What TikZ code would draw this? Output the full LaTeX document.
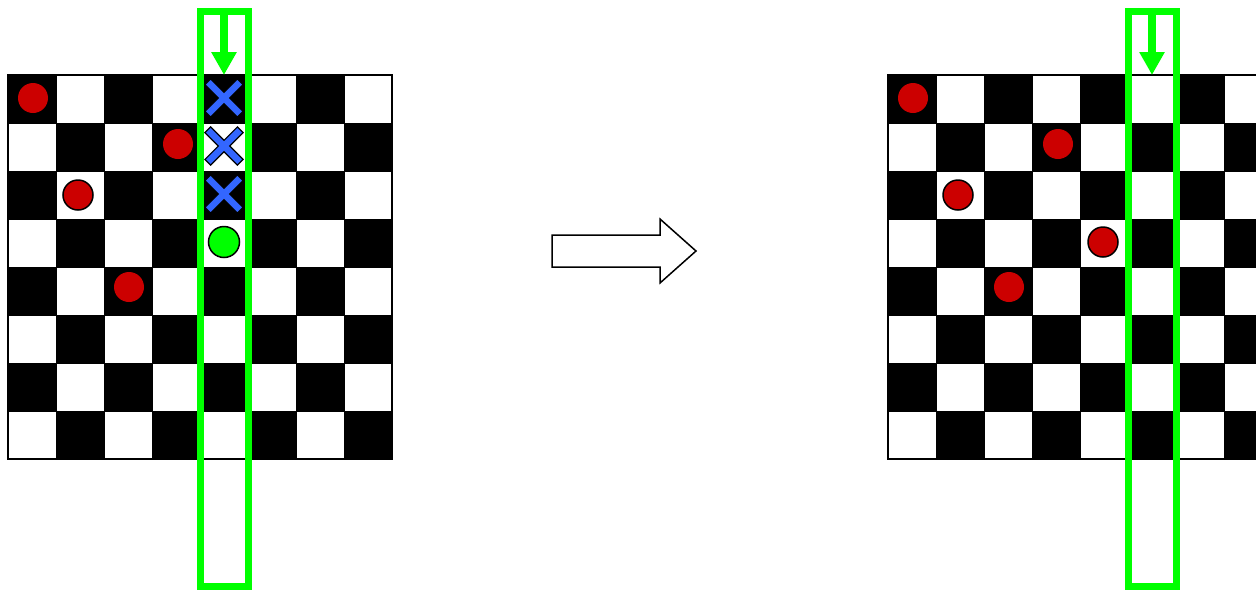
\documentclass[tikz,border=0pt]{standalone}
\usetikzlibrary{arrows.meta}
\definecolor{pieceRed}{HTML}{CC0000}
\definecolor{markGreen}{HTML}{00FF00}
\definecolor{xBlue}{HTML}{3366FF}
\tikzset{
  redpiece/.style={circle, fill=pieceRed, inner sep=0pt, minimum size=30pt},
  redpieceo/.style={circle, fill=pieceRed, draw=black, line width=1.5pt, inner sep=0pt, minimum size=30pt},
  greenpiece/.style={circle, fill=markGreen, draw=black, line width=1.5pt, inner sep=0pt, minimum size=31pt},
  scanbox/.style={draw=markGreen, line width=7pt},
  scanarrow/.style={draw=markGreen, line width=8pt, -{Triangle[width=24pt,length=23pt]}},
  xmark/.pic={
    \filldraw[fill=xBlue, draw=black, line width=1.2pt, rotate=45]
      (23,4) -- (4,4) -- (4,23) -- (-4,23) -- (-4,4) -- (-23,4) -- (-23,-4)
      -- (-4,-4) -- (-4,-23) -- (4,-23) -- (4,-4) -- (23,-4) -- cycle;
  },
  hollowarrow/.style={draw=black, fill=white, line width=1.5pt, line join=miter}
}
\newcommand{\chessboard}[1]{%
  \fill[white] (#1,75) rectangle ++(384,384);
  \foreach \i in {0,...,7}{%
    \foreach \j in {0,...,7}{%
      \pgfmathtruncatemacro{\cellpar}{mod(\i+\j,2)}%
      \ifnum\cellpar=0
        \fill[black] ({#1+48*\i},{75+48*\j}) rectangle ++(48,48);
      \fi
    }%
  }%
  \foreach \k in {1,...,7}{%
    \draw[black, line width=1pt] ({#1+48*\k},75) -- ++(0,384);
    \draw[black, line width=1pt] (#1,{75+48*\k}) -- ++(384,0);
  }%
  \draw[black, line width=2pt] (#1,75) rectangle ++(384,384);
}
\begin{document}
\begin{tikzpicture}[x=1pt, y=-1pt]
  \useasboundingbox (0,0) rectangle (1256,590);
  \clip (0,0) rectangle (1256,590);
  \fill[white] (0,0) rectangle (1256,590);

  % left board
  \chessboard{8}
  \node[redpiece]  (l1) at (33,98) {};
  \node[redpiece]  (l2) at (178,144) {};
  \node[redpieceo] (l3) at (78,195) {};
  \node[redpiece]  (l4) at (129,287) {};
  \node[greenpiece] (lg) at (224,242) {};
  \pic at (224,98) {xmark};
  \pic at (224,146) {xmark};
  \pic at (224,194) {xmark};
  \draw[scanbox] (200,11) rectangle (248,586);
  \coordinate (la) at (224,12);
  \coordinate (lb) at (224,75);
  \draw[scanarrow] (la) -- (lb);

  % transition arrow
  \draw[hollowarrow] (552,235) -- (660,235) -- (660,219) -- (696,251)
    -- (660,283) -- (660,267) -- (552,267) -- cycle;

  % right board
  \chessboard{888}
  \node[redpiece]  (r1) at (913,98) {};
  \node[redpiece]  (r2) at (1058,144) {};
  \node[redpieceo] (r3) at (958,195) {};
  \node[redpieceo] (r5) at (1103,242) {};
  \node[redpiece]  (r4) at (1009,287) {};
  \draw[scanbox] (1128,11) rectangle (1176,586);
  \coordinate (ra) at (1152,12);
  \coordinate (rb) at (1152,75);
  \draw[scanarrow] (ra) -- (rb);
\end{tikzpicture}
\end{document}
